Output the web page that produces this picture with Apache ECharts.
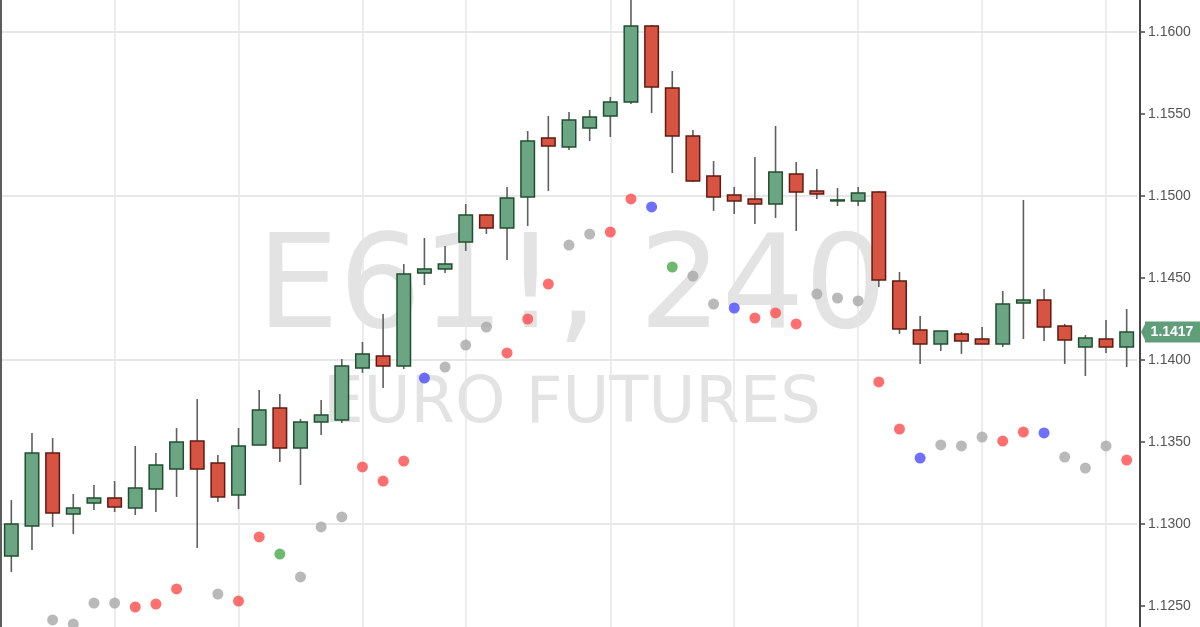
<!DOCTYPE html>
<html><head><meta charset="utf-8">
<script src="https://cdn.jsdelivr.net/npm/echarts@6/dist/echarts.min.js"></script>
<style>html,body{margin:0;padding:0;background:#fff;overflow:hidden}
#c{width:1200px;height:627px}</style>
</head><body><div id="c"></div>
<script>
// ---- data ----
const opens = [1.12805,1.12988,1.13433,1.13061,1.13128,1.13159,1.13098,1.13213,1.13335,1.13506,
  1.13372,1.13177,1.13482,1.13707,1.13463,1.13622,1.13634,1.13951,1.14024,1.13963,
  1.14530,1.14555,1.14720,1.14884,1.14805,1.14994,1.15354,1.15299,1.15415,1.15488,
  1.15573,1.16037,1.15659,1.15366,1.15122,1.15006,1.14982,1.14951,1.15134,1.15030,
  1.14970,1.14970,1.15024,1.14482,1.14183,1.14098,1.14159,1.14128,1.14098,1.14348,
  1.14366,1.14207,1.14079,1.14128,1.14079];
const closes = [1.13000,1.13433,1.13067,1.13098,1.13159,1.13104,1.13220,1.13360,1.13500,1.13335,
  1.13165,1.13476,1.13695,1.13463,1.13622,1.13665,1.13963,1.14037,1.13963,1.14524,
  1.14555,1.14585,1.14884,1.14805,1.14988,1.15335,1.15305,1.15463,1.15482,1.15573,
  1.16037,1.15665,1.15366,1.15091,1.14994,1.14970,1.14951,1.15146,1.15024,1.15012,
  1.14976,1.15018,1.14488,1.14189,1.14098,1.14177,1.14116,1.14098,1.14341,1.14366,
  1.14201,1.14122,1.14134,1.14079,1.14170];
const lows = [1.12707,1.12841,1.12982,1.12939,1.13085,1.13073,1.13055,1.13073,1.13165,1.12854,
  1.13134,1.13091,1.13482,1.13378,1.13238,1.13543,1.13616,1.13921,1.13829,1.13945,
  1.14457,1.14530,1.14665,1.14768,1.14610,1.14817,1.15030,1.15280,1.15335,1.15360,
  1.15561,1.15506,1.15140,1.15085,1.14909,1.14890,1.14829,1.14866,1.14787,1.14982,
  1.14939,1.14939,1.14445,1.14159,1.13976,1.14055,1.14037,1.14098,1.14079,1.14128,
  1.14116,1.13976,1.13902,1.14043,1.13957];
const highs = [1.13146,1.13555,1.13524,1.13183,1.13238,1.13262,1.13476,1.13433,1.13585,1.13762,
  1.13421,1.13585,1.13817,1.13793,1.13640,1.13756,1.14006,1.14110,1.14280,1.14585,
  1.14744,1.14695,1.14951,1.14890,1.15055,1.15396,1.15488,1.15512,1.15524,1.15604,
  1.16230,1.16043,1.15762,1.15402,1.15213,1.15055,1.15238,1.15427,1.15207,1.15165,
  1.15049,1.15055,1.15030,1.14537,1.14268,1.14177,1.14171,1.14201,1.14421,1.14976,
  1.14433,1.14220,1.14152,1.14244,1.14311];
const dotValues = [null,null,1.12415,1.12390,1.12518,1.12518,1.12494,1.12512,1.12604,null,
  1.12573,1.12530,1.12921,1.12817,1.12677,1.12982,1.13043,1.13348,1.13262,1.13384,
  1.13890,1.13957,1.14091,1.14201,1.14043,1.14250,1.14463,1.14701,1.14768,1.14780,
  1.14982,1.14933,1.14567,1.14512,1.14341,1.14317,1.14256,1.14287,1.14220,1.14402,
  1.14378,1.14360,1.13866,1.13579,1.13402,1.13482,1.13476,1.13530,1.13506,1.13561,
  1.13555,1.13408,1.13341,1.13476,1.13390];
const dotKinds = ['-','-','k','k','k','k','r','r','r','-',
  'k','r','r','g','k','k','k','r','r','r',
  'b','k','k','k','r','r','r','k','k','r',
  'r','b','g','k','k','b','r','r','r','k',
  'k','k','r','r','b','k','k','k','r','r',
  'b','k','k','k','r'];
const gridLineIdx = [5,11,17,22,29,35,41,47,53];
const yTicks = [1.125,1.130,1.135,1.140,1.145,1.150,1.155,1.160];
const yMin = 1.12372, yMax = 1.16195;   // visible price range
const titleText = 'E61!, 240';
const subtitleText = 'EURO FUTURES';

// ---- styles ----
const dotColor = {r:'#ff4b4b', k:'#a8a8a8', b:'#4a4aff', g:'#4ba64b'};
const gridColor = '#e6e6e6';
const categories = opens.map((_, i) => String(i));
const candleData = opens.map((o, i) => [i, o, closes[i], lows[i], highs[i]]);
const dotData = [];
dotValues.forEach((v, i) => { if (v != null) dotData.push({value:[i, v], itemStyle:{color: dotColor[dotKinds[i]]}}); });

const chart = echarts.init(document.getElementById('c'), null, {renderer:'canvas'});
const baseOption = {
  animation: false,
  backgroundColor: '#ffffff',
  grid: {left: 1, right: 63, top: 0, bottom: 0, containLabel: false},
  xAxis: {type:'category', data: categories, boundaryGap: true,
    axisLine:{show:false}, axisTick:{show:false}, axisLabel:{show:false}, splitLine:{show:false}},
  yAxis: {type:'value', position:'right', offset: 3, min: yMin, max: yMax,
    axisLine:{show:true, lineStyle:{color:'#474747', width:2}},
    axisTick:{show:true, length:5, customValues: yTicks, lineStyle:{color:'#474747', width:1.5}},
    axisLabel:{color:'#555', fontSize:14, fontFamily:'Liberation Sans, Arial, sans-serif', margin:8,
      customValues: yTicks, formatter: v => Number(v).toFixed(4)},
    splitLine:{show:false}},
  series: [
    {type:'line', data: [], z: 1, silent: true,
      markLine: {z: 0, silent:true, symbol:['none','none'], label:{show:false}, animation:false,
        lineStyle:{color:gridColor, width:1.5, type:'solid'},
        data: gridLineIdx.map(i => ({xAxis: i})).concat(yTicks.map(v => ({yAxis: v})))}},
    {type:'custom', z: 3, data: candleData, encode:{x:0, y:[1,2,3,4]},
      renderItem: function(params, api){
        const i = api.value(0), o = api.value(1), c = api.value(2), l = api.value(3), h = api.value(4);
        const pH = api.coord([i, h]), pL = api.coord([i, l]), pO = api.coord([i, o]), pC = api.coord([i, c]);
        const x = pO[0], bw = 13.5;
        const up = c >= o;
        const top = Math.min(pO[1], pC[1]), bot = Math.max(pO[1], pC[1]);
        return {type:'group', children:[
          {type:'line', shape:{x1:x, y1:pH[1], x2:x, y2:pL[1]}, style:{stroke:'#5f5f5f', lineWidth:1.6}},
          {type:'rect', shape:{x:x-bw/2, y:top, width:bw, height:Math.max(bot-top, 1)},
            style:{fill: up ? '#6ba583' : '#d75442', stroke: up ? '#1f4f2e' : '#5e1a12', lineWidth:1.5}}
        ]};
      }},
    {type:'scatter', z: 4, symbolSize: 11, data: dotData, silent: true}
  ]
};
chart.setOption(baseOption);

const lastClose = closes[closes.length - 1];
const py = chart.convertToPixel({yAxisIndex:0}, lastClose);
chart.setOption({graphic: [
  {type:'text', z:-10, silent:true, style:{text: titleText, x:572, y:293, fill:'#e3e3e3',
    font:'130px "DejaVu Sans"', textAlign:'center', textVerticalAlign:'middle'}},
  {type:'text', z:-10, silent:true, style:{text: subtitleText, x:572, y:405, fill:'#e3e3e3',
    font:'64px "DejaVu Sans"', textAlign:'center', textVerticalAlign:'middle'}},
  {type:'rect', silent:true, shape:{x:0, y:0, width:2, height:627}, style:{fill:'#5c5c5c'}},
  {type:'polygon', silent:true, z:20, shape:{points:[[1141, py],[1146, py-10],[1146, py+10]]}, style:{fill:'#5f9e78'}},
  {type:'rect', silent:true, z:20, shape:{x:1145, y:py-10.5, width:55, height:21}, style:{fill:'#5f9e78'}},
  {type:'text', silent:true, z:21, style:{text: lastClose.toFixed(4), x:1172, y:py, fill:'#ffffff',
    font:'bold 14px "Liberation Sans", Arial, sans-serif', textAlign:'center', textVerticalAlign:'middle'}}
]});
</script>
</body></html>
